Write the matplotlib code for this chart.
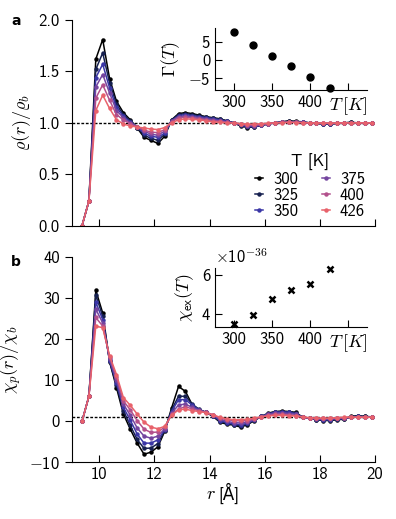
import numpy as np
import matplotlib
matplotlib.use('Agg')
import matplotlib.pyplot as plt

# fonts - cm sans for text, fall back to DejaVu for the odd glyph
plt.rcParams['font.family'] = ['cmss10', 'DejaVu Sans']
plt.rcParams['mathtext.fontset'] = 'cm'
plt.rcParams['font.size'] = 12

##### Data

temps = [300, 325, 350, 375, 400, 426]
temp_colours = ['#000000', '#16204f', '#3a36a6', '#74459f', '#b2508c', '#e8626b']

r = [9.375, 9.625, 9.875, 10.125, 10.375, 10.625, 10.875, 11.125, 11.375, 11.625,
     11.875, 12.125, 12.375, 12.625, 12.875, 13.125, 13.375, 13.625, 13.875, 14.125,
     14.375, 14.625, 14.875, 15.125, 15.375, 15.625, 15.875, 16.125, 16.375, 16.625,
     16.875, 17.125, 17.375, 17.625, 17.875, 18.125, 18.375, 18.625, 18.875, 19.125,
     19.375, 19.625, 19.875]

# density profile rho(r)/rho_b
rho_300 = [0, 0.24, 1.62, 1.81, 1.43, 1.21, 1.10, 1.03, 0.95, 0.86, 0.83, 0.80, 0.87, 1.03, 1.09,
           1.10, 1.09, 1.075, 1.06, 1.05, 1.04, 1.02, 1.00, 0.97, 0.955, 0.96, 0.975, 0.99, 1.0,
           1.01, 1.02, 1.015, 1.01, 1.0, 0.995, 0.99, 0.99, 0.995, 1.0, 1.005, 1.0, 1.0, 1.0]
rho_325 = [0, 0.24, 1.52, 1.68, 1.39, 1.18, 1.08, 1.02, 0.955, 0.88, 0.85, 0.83, 0.89, 1.03, 1.08,
           1.09, 1.08, 1.07, 1.055, 1.045, 1.035, 1.02, 1.0, 0.975, 0.96, 0.962, 0.975, 0.99, 1.0,
           1.01, 1.015, 1.012, 1.008, 1.0, 0.995, 0.992, 0.99, 0.995, 1.0, 1.004, 1.0, 1.0, 1.0]
rho_350 = [0, 0.24, 1.44, 1.57, 1.34, 1.15, 1.065, 1.01, 0.96, 0.90, 0.87, 0.86, 0.90, 1.02, 1.07,
           1.08, 1.07, 1.06, 1.05, 1.04, 1.03, 1.015, 1.0, 0.98, 0.965, 0.965, 0.978, 0.99, 1.0,
           1.008, 1.012, 1.01, 1.006, 1.0, 0.996, 0.993, 0.992, 0.996, 1.0, 1.003, 1.0, 1.0, 1.0]
rho_375 = [0, 0.24, 1.35, 1.47, 1.29, 1.12, 1.05, 1.0, 0.962, 0.92, 0.89, 0.88, 0.92, 1.02, 1.06,
           1.065, 1.06, 1.05, 1.04, 1.03, 1.02, 1.01, 1.0, 0.985, 0.972, 0.97, 0.98, 0.99, 1.0,
           1.006, 1.01, 1.008, 1.005, 1.0, 0.997, 0.995, 0.994, 0.997, 1.0, 1.002, 1.0, 1.0, 1.0]
rho_400 = [0, 0.24, 1.24, 1.37, 1.22, 1.08, 1.03, 0.99, 0.963, 0.93, 0.91, 0.905, 0.935, 1.01, 1.05,
           1.055, 1.05, 1.04, 1.03, 1.02, 1.015, 1.007, 1.0, 0.99, 0.98, 0.978, 0.985, 0.993, 1.0,
           1.004, 1.006, 1.005, 1.003, 1.0, 0.998, 0.996, 0.996, 0.998, 1.0, 1.001, 1.0, 1.0, 1.0]
rho_426 = [0, 0.24, 1.12, 1.27, 1.14, 1.03, 0.99, 0.97, 0.96, 0.95, 0.94, 0.935, 0.955, 1.0, 1.03,
           1.04, 1.035, 1.03, 1.02, 1.01, 1.005, 1.0, 0.998, 0.993, 0.988, 0.988, 0.992, 0.996, 1.0,
           1.003, 1.004, 1.003, 1.002, 1.0, 0.999, 0.998, 0.998, 0.999, 1.0, 1.0, 1.0, 1.0, 1.0]

# polarisation profile chi_p(r)/chi_b
chi_300 = [0, 6.1, 31.9, 26.4, 14.5, 8.2, 1.8, -1.9, -5.3, -8.0, -7.5, -6.2, -2.4, 3.3, 8.5,
           7.3, 4.0, 2.8, 2.2, 1.2, -0.2, -0.7, -0.9, -1.4, -0.8, 0.2, 1.2, 2.0, 2.4, 2.5,
           2.4, 2.2, 1.0, 0.8, 0.4, 0.2, 0.2, 0.4, 0.5, 1.2, 1.4, 1.2, 1.1]
chi_325 = [0, 6.1, 30.8, 25.6, 14.6, 8.8, 2.6, -1.0, -4.4, -6.6, -6.5, -5.4, -2.2, 2.8, 6.1,
           6.1, 4.2, 2.9, 2.2, 1.3, 0.0, -0.5, -0.8, -1.1, -0.7, 0.3, 1.2, 1.9, 2.3, 2.4,
           2.3, 2.0, 1.0, 0.8, 0.4, 0.3, 0.3, 0.5, 0.6, 1.1, 1.3, 1.2, 1.1]
chi_350 = [0, 6.1, 29.0, 24.8, 14.8, 9.4, 3.4, 0.3, -3.1, -5.3, -5.3, -4.5, -2.0, 2.4, 5.3,
           5.3, 3.9, 2.8, 2.2, 1.4, 0.2, -0.3, -0.6, -0.8, -0.5, 0.4, 1.2, 1.8, 2.2, 2.3,
           2.2, 1.9, 1.0, 0.8, 0.5, 0.4, 0.4, 0.6, 0.7, 1.1, 1.2, 1.1, 1.1]
chi_375 = [0, 6.1, 27.3, 24.0, 15.2, 10.0, 4.2, 1.5, -1.6, -3.6, -4.1, -3.6, -1.8, 2.0, 4.0,
           4.2, 3.4, 2.7, 2.2, 1.5, 0.5, 0.0, -0.3, -0.4, -0.2, 0.5, 1.1, 1.7, 2.0, 2.0,
           1.9, 1.7, 1.0, 0.8, 0.6, 0.5, 0.6, 0.7, 0.8, 1.0, 1.1, 1.1, 1.0]
chi_400 = [0, 6.1, 25.3, 23.2, 15.6, 10.8, 5.0, 2.8, 0.2, -1.9, -2.7, -2.6, -1.4, 1.7, 3.0,
           3.6, 3.0, 2.6, 2.2, 1.6, 0.8, 0.4, 0.2, 0.1, 0.2, 0.6, 1.1, 1.5, 1.7, 1.7,
           1.6, 1.4, 1.0, 0.8, 0.7, 0.7, 0.7, 0.8, 0.9, 1.0, 1.05, 1.0, 1.0]
chi_426 = [0, 6.1, 23.2, 22.8, 16.0, 11.4, 5.8, 3.9, 1.8, -0.2, -1.4, -1.8, -1.2, 1.5, 2.8,
           3.0, 2.6, 2.4, 2.1, 1.6, 1.0, 0.6, 0.4, 0.4, 0.5, 0.8, 1.1, 1.3, 1.5, 1.5,
           1.4, 1.3, 1.1, 0.9, 0.8, 0.8, 0.8, 0.9, 1.0, 1.05, 1.0, 1.0, 1.0]

rho_all = [rho_300, rho_325, rho_350, rho_375, rho_400, rho_426]
chi_all = [chi_300, chi_325, chi_350, chi_375, chi_400, chi_426]

# inset data
gamma_T = [7.6, 4.0, 1.0, -1.8, -4.8, -7.6]
chi_ex_T = [3.48, 3.95, 4.8, 5.26, 5.54, 6.34]   # in units of 1e-36

# tick labels (cmss10 has no minus glyph, so the minus goes through mathtext)
rho_ticks = [0, 0.5, 1.0, 1.5, 2.0]
rho_ticklabels = ['0.0', '0.5', '1.0', '1.5', '2.0']
chi_ticks = [-10, 0, 10, 20, 30, 40]
chi_ticklabels = ['$-$10', '0', '10', '20', '30', '40']
gamma_ticks = [-5, 0, 5]
gamma_ticklabels = ['$-$5', '0', '5']
chiex_ticks = [4, 6]
chiex_ticklabels = ['4', '6']
T_ticks = [300, 350, 400, 450]
T_ticklabels = ['300', '350', '400', '']
r_ticks = [10, 12, 14, 16, 18, 20]


##### Figure

fig = plt.figure(figsize=(3.96, 5.19), dpi=100)

ax_a = fig.add_axes([0.181, 0.565, 0.766, 0.3965])
ax_b = fig.add_axes([0.181, 0.109, 0.766, 0.3956])

for ax, data in zip([ax_a, ax_b], [rho_all, chi_all]):
    for T, col, y in zip(temps, temp_colours, data):
        ax.plot(r, y, '-o', color=col, lw=1.1, ms=2.2, label=str(T))
    ax.axhline(1.0, color='k', ls=(0, (2, 1.2)), lw=1.0, zorder=0)
    ax.set_xlim(9, 20)
    ax.set_xticks(r_ticks)
    ax.spines['top'].set_visible(False)
    ax.spines['right'].set_visible(False)
    ax.tick_params(axis='x', direction='in', length=5)
    ax.tick_params(axis='y', direction='out', length=5)

ax_a.set_ylim(0, 2)
ax_a.set_yticks(rho_ticks)
ax_a.set_yticklabels(rho_ticklabels)
ax_a.set_xticklabels([])
ax_a.set_ylabel(r'$\varrho(r)/\varrho_b$', fontsize=13)

ax_b.set_ylim(-10, 40)
ax_b.set_yticks(chi_ticks)
ax_b.set_yticklabels(chi_ticklabels)
ax_b.set_xticklabels([str(t) for t in r_ticks])
ax_b.set_ylabel(r'$\chi_p(r)/\chi_b$', fontsize=13)
# x label in two bits: italic r from mathtext, the angstrom from a font that has it
ax_b.text(0.475, -0.18, r'$r$', transform=ax_b.transAxes, ha='right', va='baseline', fontsize=13)
ax_b.text(0.485, -0.18, '[Å]', transform=ax_b.transAxes, ha='left', va='baseline',
          family=['cmss10', 'DejaVu Sans'])

leg = ax_a.legend(title='T [K]', ncol=2, loc='lower right', bbox_to_anchor=(1.0, -0.015),
                  frameon=False, handlelength=0.5, handletextpad=0.6, columnspacing=1.4,
                  labelspacing=0.05, fontsize=12, borderaxespad=0.2)
leg.get_title().set_fontsize(12)

# insets
ins_a = fig.add_axes([0.543, 0.827, 0.384, 0.119])
ins_a.plot(temps, gamma_T, 'o', color='k', ms=5, clip_on=False)
ins_a.set_ylim(-8.2, 8.7)
ins_a.set_yticks(gamma_ticks)
ins_a.set_yticklabels(gamma_ticklabels)
ins_a.set_ylabel(r'$\Gamma(T)$', fontsize=13)

ins_b = fig.add_axes([0.543, 0.3705, 0.384, 0.113])
ins_b.plot(temps, chi_ex_T, 'x', color='k', ms=4.5, mew=1.8, clip_on=False)
ins_b.set_ylim(3.35, 6.37)
ins_b.set_yticks(chiex_ticks)
ins_b.set_yticklabels(chiex_ticklabels)
ins_b.set_ylabel(r'$\chi_{\mathsf{ex}}(T)$', fontsize=13)
ins_b.text(0.0, 1.03, r'$\times$10$^{-36}$', transform=ins_b.transAxes,
           ha='left', va='bottom', fontsize=12)

for ins in [ins_a, ins_b]:
    ins.set_xlim(275, 475)
    ins.set_xticks(T_ticks)
    ins.set_xticklabels(T_ticklabels)
    ins.spines['top'].set_visible(False)
    ins.spines['right'].set_visible(False)
    ins.tick_params(direction='in', length=5)
    ins.text(0.875, -0.09, r'$T\,[K]$', transform=ins.transAxes, ha='center', va='top',
             fontsize=13)

# panel letters
fig.text(0.028, 0.952, 'a', weight='bold', fontsize=10, family='DejaVu Sans')
fig.text(0.028, 0.488, 'b', weight='bold', fontsize=10, family='DejaVu Sans')

fig.savefig('out.png', dpi=100)
